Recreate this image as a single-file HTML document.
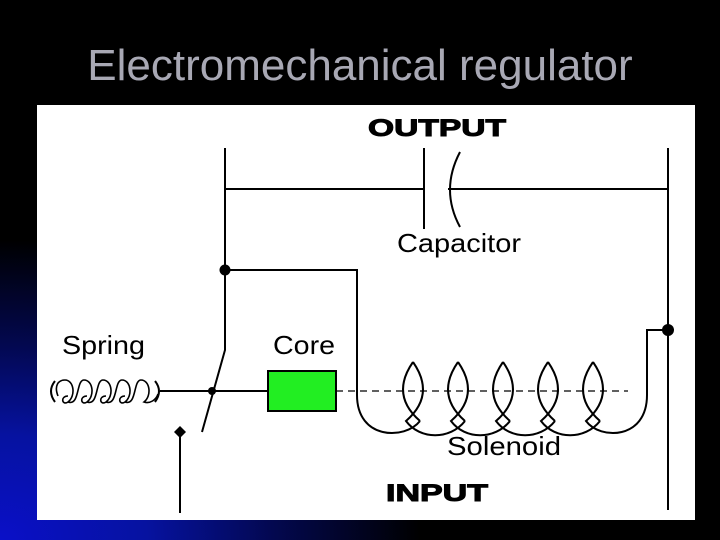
<!DOCTYPE html>
<html><head><style>
body{margin:0;width:720px;height:540px;overflow:hidden;background:#000;position:relative;font-family:"Liberation Sans",sans-serif}
.bg{position:absolute;inset:0;background:radial-gradient(ellipse 420px 300px at 0px 540px,#0a10c8 0%,#0612a0 35%,#030850 65%,#000 100%)}
h1{position:absolute;left:0;width:720px;top:44px;margin:0;text-align:center;font-weight:normal;font-size:44px;line-height:44px;color:#a8a8b4;}
svg{position:absolute;left:0;top:0}
</style></head><body>
<div class="bg"></div>
<h1>Electromechanical regulator</h1>
<svg width="720" height="540" font-family="Liberation Sans, sans-serif">
<rect x="37" y="105" width="658" height="415" fill="#fff"/>
<g stroke="#000" stroke-width="2" fill="none">
<path d="M225 148 V350 L202 432"/>
<path d="M225 189 H424 M424 148 V229 M460 152 Q440 190 460 227 M448 189 H668"/>
<path d="M668 148 V510"/>
<path d="M225 270 H357 V395"/>
<path d="M160 391 H268"/>
<rect x="268" y="371" width="68" height="40" fill="#22ee22"/>
<path d="M336 391 H628" stroke-dasharray="7 5" stroke-width="1.3"/>
<path d="M180 432 V513"/>
<path d="M647 395 V330 H668"/>
<path d="M357 395 C357 440 405 440 420 421 M413 362 Q390 395 420 421 M413 362 Q436 395 406 421 C420 440 450 440 465 421 M458 362 Q435 395 465 421 M458 362 Q481 395 451 421 C465 440 495 440 510 421 M503 362 Q480 395 510 421 M503 362 Q526 395 496 421 C510 440 540 440 555 421 M548 362 Q525 395 555 421 M548 362 Q571 395 541 421 C555 440 585 440 600 421 M593 362 Q570 395 600 421 M593 362 Q616 395 586 421 C600 440 647 440 647 395"/>
<path d="M55 381 Q47 391 55 402"/>
<path d="M155 381 Q163 391 155 402"/>
<path d="M58 396 C54 386 58 380 65 380 C74 380 76 396 68 402 C62 406 60 396 68 396 M68 402 C80 406 76 380 84 380 C93 380 95 396 87 402 C81 406 79 396 87 396 M87 402 C99 406 95 380 103 380 C112 380 114 396 106 402 C100 406 98 396 106 396 M106 402 C118 406 114 380 122 380 C131 380 133 396 125 402 C119 406 117 396 125 396 M125 402 C137 406 133 380 141 380 C150 380 152 396 144 402 C150 404 156 400 158 394" stroke-width="1.6"/>
</g>
<circle cx="225" cy="270" r="5.5"/>
<circle cx="212" cy="391" r="4"/>
<circle cx="668" cy="330" r="6"/>
<path d="M180 426 L186 432 L180 438 L174 432Z"/>
<g font-size="26">
<text x="397" y="252" textLength="124" lengthAdjust="spacingAndGlyphs">Capacitor</text>
<text x="62" y="354" textLength="83" lengthAdjust="spacingAndGlyphs">Spring</text>
<text x="273" y="354" textLength="62" lengthAdjust="spacingAndGlyphs">Core</text>
<text x="447" y="455" textLength="114" lengthAdjust="spacingAndGlyphs">Solenoid</text>
</g>
<text x="368" y="136" font-size="24" font-weight="bold" textLength="138" lengthAdjust="spacingAndGlyphs" stroke="#000" stroke-width="1">OUTPUT</text>
<text x="386" y="501" font-size="24" font-weight="bold" textLength="102" lengthAdjust="spacingAndGlyphs" stroke="#000" stroke-width="1">INPUT</text>
</svg>
</body></html>
